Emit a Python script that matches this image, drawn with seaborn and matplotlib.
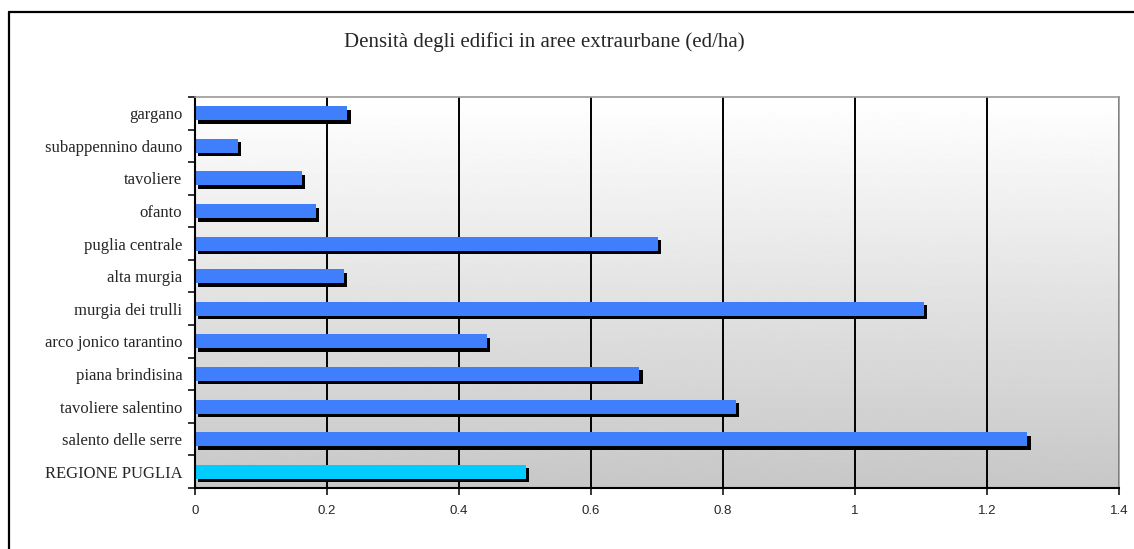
import numpy as np
import pandas as pd
import seaborn as sns
import matplotlib.pyplot as plt
import matplotlib.patheffects as pe
from matplotlib.lines import Line2D

# Densità degli edifici (ed/ha) per ambito
aree = ["gargano", "subappennino dauno", "tavoliere", "ofanto", "puglia centrale",
        "alta murgia", "murgia dei trulli", "arco jonico tarantino",
        "piana brindisina", "tavoliere salentino", "salento delle serre",
        "REGIONE PUGLIA"]
densita = [0.231, 0.065, 0.162, 0.183, 0.701, 0.225, 1.104, 0.442,
           0.673, 0.819, 1.261, 0.501]
colori = ["#3f7ffc"] * 11 + ["#00ccff"]
x_ticks = [0, 0.2, 0.4, 0.6, 0.8, 1, 1.2, 1.4]
x_labels = ["0", "0.2", "0.4", "0.6", "0.8", "1", "1.2", "1.4"]

df = pd.DataFrame({"area": aree, "densita": densita})

sns.set_style("white")
plt.rcParams['font.family'] = ['Liberation Serif', 'DejaVu Serif']

fig = plt.figure(figsize=(11.34, 5.49), dpi=100)
ax = fig.add_axes([195 / 1134, 1 - 488 / 549, 924 / 1134, 391 / 549])

# gradient background
grad = np.linspace(0.78, 1.0, 256).reshape(-1, 1)
ax.imshow(grad, cmap="gray", vmin=0, vmax=1, aspect="auto",
          extent=[0, 1, 0, 1], transform=ax.transAxes, origin="lower", zorder=0)

sns.barplot(data=df, x="densita", y="area", hue="area", palette=colori,
            legend=False, orient="h", width=0.43, ax=ax, zorder=2,
            edgecolor="none", saturation=1)

for p in ax.patches:
    p.set_path_effects([pe.SimplePatchShadow(offset=(2.5, -2.5), shadow_rgbFace="black",
                                             alpha=1.0), pe.Normal()])

ax.set_xlim(0, 1.4)
ax.set_ylim(11.5, -0.5)
ax.set_xticks(x_ticks)
ax.set_xticklabels(x_labels, family="Liberation Sans", fontsize=9.5)
ax.set_xlabel("")
ax.set_ylabel("")
ax.xaxis.grid(True, color="black", linewidth=1.4, zorder=1)
ax.set_axisbelow(True)

ax.tick_params(axis="y", which="major", length=0, pad=9, labelsize=12)
ax.set_yticks(np.arange(-0.5, 12, 1), minor=True)
ax.tick_params(axis="y", which="minor", length=5, width=1.3, direction="out", left=True)
ax.tick_params(axis="x", length=5, width=1.3, direction="out", bottom=True, pad=7)

for side in ["top", "right"]:
    ax.spines[side].set_color("#999999")
    ax.spines[side].set_linewidth(1.2)
for side in ["left", "bottom"]:
    ax.spines[side].set_color("black")
    ax.spines[side].set_linewidth(1.5)

fig.text(0.48, 1 - 42 / 549, "Densità degli edifici in aree extraurbane (ed/ha)",
         ha="center", va="center", fontsize=15)

# outer frame (only left and top edges fall inside the image)
x0, y0 = 8.5 / 1134, 1 - 11.5 / 549
fig.add_artist(Line2D([x0, 1.05], [y0, y0], transform=fig.transFigure,
                      color="black", linewidth=1.6))
fig.add_artist(Line2D([x0, x0], [-0.05, y0], transform=fig.transFigure,
                      color="black", linewidth=1.6))

fig.savefig("out.png", dpi=100)
